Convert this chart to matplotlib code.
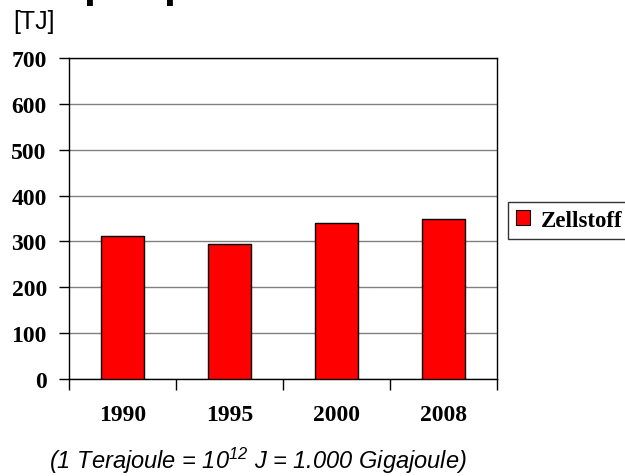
import matplotlib
matplotlib.use("Agg")
import matplotlib.pyplot as plt
from matplotlib.patches import Patch

years = ["1990", "1995", "2000", "2008"]
values = [312, 295, 340, 349]
y_ticks = [0, 100, 200, 300, 400, 500, 600, 700]
series_name = "Zellstoff"
unit_label = "[TJ]"
footnote = r"(1 Terajoule = 10$^{12}$ J = 1.000 Gigajoule)"

plt.rcParams["mathtext.fontset"] = "custom"
plt.rcParams["mathtext.rm"] = "Liberation Sans:italic"
plt.rcParams["mathtext.it"] = "Liberation Sans:italic"

fig = plt.figure(figsize=(6.25, 4.77), dpi=100)
ax = fig.add_axes([69/625, 1-380/477, (497-69)/625, (380-59)/477])

x = list(range(len(years)))
ax.bar(x, values, width=0.4, color="#FF0000", edgecolor="black", linewidth=1.0, zorder=3)

ax.set_xlim(-0.5, len(years) - 0.5)
ax.set_ylim(0, 700)
ax.set_yticks(y_ticks)
ax.set_yticklabels([str(v) for v in y_ticks], fontfamily="Liberation Serif",
                   fontweight="bold", fontsize=17)
ax.yaxis.grid(True, color="#808080", linewidth=1.0, zorder=0)
ax.tick_params(axis="y", direction="out", length=7, width=1, pad=9)

ax.set_xticks([i - 0.5 for i in range(len(years) + 1)])
ax.set_xticklabels([])
ax.tick_params(axis="x", which="major", direction="out", length=8, width=1)
ax.set_xticks(x, minor=True)
ax.set_xticklabels(years, minor=True, fontfamily="Liberation Serif",
                   fontweight="bold", fontsize=17)
ax.tick_params(axis="x", which="minor", length=0, pad=18)

for s in ax.spines.values():
    s.set_color("black")
    s.set_linewidth(1.0)

fig.text(13/625, 1-29/477, unit_label, fontfamily="Liberation Sans", fontsize=18,
         ha="left", va="baseline")

# cut-off title descenders
fig.text(83/625, 1-(-3)/477, "p", fontfamily="Liberation Sans", fontweight="bold",
         fontsize=31, ha="left", va="baseline")
fig.text(163/625, 1-(-3)/477, "p", fontfamily="Liberation Sans", fontweight="bold",
         fontsize=31, ha="left", va="baseline")

fig.text(258/625, 1-469/477, footnote, fontfamily="Liberation Sans", style="italic",
         fontsize=17, ha="center", va="baseline")

handle = Patch(facecolor="#FF0000", edgecolor="black", linewidth=0.8)
leg = fig.legend([handle], [series_name], loc="upper left",
                 bbox_to_anchor=(508/625, 1-203/477),
                 prop={"family": "Liberation Serif", "weight": "bold", "size": 16.5},
                 frameon=True, fancybox=False, edgecolor="black",
                 handlelength=0.6, handleheight=0.6, handletextpad=0.5,
                 borderpad=0.34, borderaxespad=0)
leg.get_frame().set_linewidth(1.0)

fig.savefig("out.png", dpi=100)
